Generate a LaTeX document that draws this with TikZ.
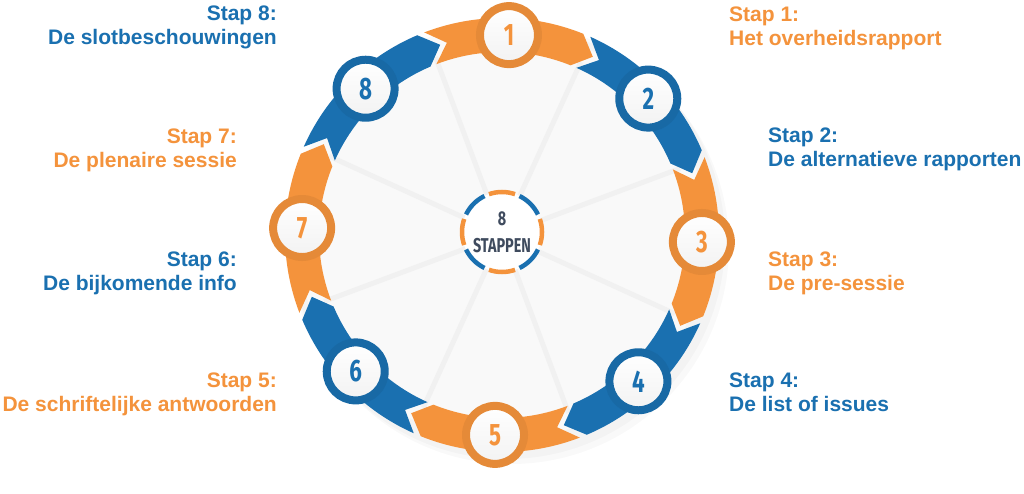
\documentclass[tikz,border=0pt]{standalone}
\usepackage{fontspec}
\setmainfont{Liberation Sans}
\newfontfamily\numfont[FakeStretch=0.72]{Fira Sans}
\usetikzlibrary{shapes,shadows}

\definecolor{staporanje}{HTML}{F4933C}
\definecolor{stapblauw}{HTML}{1A70B0}
\definecolor{stapgrijs}{HTML}{3F4B5E}

% ribbon piece round the ring: #1 = middle angle, #2 = colour
\newcommand{\lint}[2]{%
	\fill[#2] ({#1+23}:217) arc[start angle=#1+23, end angle=#1-20, radius=217]
		-- ({#1-25}:200) -- ({#1-20}:183)
		arc[start angle=#1-20, end angle=#1+23, radius=183]
		-- ({#1+18}:200) -- cycle;}

\tikzset{
	nummer/.style={circle, draw=#1!94!black, line width=8pt, top color=white, bottom color=gray!10,
		minimum size=58pt, inner sep=0pt, text=#1,
		font=\numfont\bfseries\fontsize{31}{31}\selectfont,
		drop shadow={opacity=0.12, shadow xshift=2pt, shadow yshift=-2pt}},
	stap/.style={inner sep=0pt, text=#1, font=\bfseries\fontsize{21}{24}\selectfont},
	spaak/.style={line width=5pt, gray!11},
	boog/.style={line width=4.5pt, #1}
}

\begin{document}
\begin{tikzpicture}[x=1pt,y=1pt]
	\useasboundingbox[fill=white] (0,0) rectangle (1024,493);

	\begin{scope}[shift={(502,258)}]
		% shadow and inner disc
		\fill[black, opacity=0.025] (9,-11) circle[radius=218];
		\fill[black, opacity=0.025] (5,-6) circle[radius=218];
		\fill[gray!5] (0,0) circle[radius=205];

		\draw[spaak] (0,0) -- (65.5:190);
		\draw[spaak] (0,0) -- (20.5:190);
		\draw[spaak] (0,0) -- (-24.5:190);
		\draw[spaak] (0,0) -- (-69.5:190);
		\draw[spaak] (0,0) -- (-114.5:190);
		\draw[spaak] (0,0) -- (-159.5:190);
		\draw[spaak] (0,0) -- (155.5:190);
		\draw[spaak] (0,0) -- (110.5:190);

		\lint{88}{staporanje}
		\lint{43}{stapblauw}
		\lint{-2}{staporanje}
		\lint{-47}{stapblauw}
		\lint{-92}{staporanje}
		\lint{-137}{stapblauw}
		\lint{-182}{staporanje}
		\lint{-227}{stapblauw}

		\node[nummer=staporanje] (c1) at (88:200) {1};
		\node[nummer=stapblauw] (c2) at (43:200) {2};
		\node[nummer=staporanje] (c3) at (-2:200) {3};
		\node[nummer=stapblauw] (c4) at (-47:200) {4};
		\node[nummer=staporanje] (c5) at (-92:200) {5};
		\node[nummer=stapblauw] (c6) at (-137:200) {6};
		\node[nummer=staporanje] (c7) at (-182:200) {7};
		\node[nummer=stapblauw] (c8) at (-227:200) {8};

		% centre
		\node[circle, fill=white, minimum size=80pt, align=center, text=stapgrijs,
			font=\numfont\bfseries\fontsize{20}{27}\selectfont] (mid) at (0,3) {8\\STAPPEN};
		\begin{scope}[shift={(0,3)}]
			\draw[boog=staporanje] (109:40) arc[start angle=109, end angle=71, radius=40];
			\draw[boog=stapblauw] (64:40) arc[start angle=64, end angle=26, radius=40];
			\draw[boog=staporanje] (19:40) arc[start angle=19, end angle=-19, radius=40];
			\draw[boog=stapblauw] (-26:40) arc[start angle=-26, end angle=-64, radius=40];
			\draw[boog=staporanje] (-71:40) arc[start angle=-71, end angle=-109, radius=40];
			\draw[boog=stapblauw] (-116:40) arc[start angle=-116, end angle=-154, radius=40];
			\draw[boog=staporanje] (-161:40) arc[start angle=-161, end angle=-199, radius=40];
			\draw[boog=stapblauw] (154:40) arc[start angle=154, end angle=116, radius=40];
		\end{scope}
	\end{scope}

	% labels
	\node[stap=staporanje, anchor=north west, align=left] (s1) at (729,486) {Stap 1:\\Het overheidsrapport};
	\node[stap=stapblauw, anchor=north west, align=left] (s2) at (768,365) {Stap 2:\\De alternatieve rapporten};
	\node[stap=staporanje, anchor=north west, align=left] (s3) at (768,241) {Stap 3:\\De pre-sessie};
	\node[stap=stapblauw, anchor=north west, align=left] (s4) at (729,120) {Stap 4:\\De list of issues};
	\node[stap=staporanje, anchor=north east, align=right] (s5) at (277,120) {Stap 5:\\De schriftelijke antwoorden};
	\node[stap=stapblauw, anchor=north east, align=right] (s6) at (237,241) {Stap 6:\\De bijkomende info};
	\node[stap=staporanje, anchor=north east, align=right] (s7) at (237,364) {Stap 7:\\De plenaire sessie};
	\node[stap=stapblauw, anchor=north east, align=right] (s8) at (277,487) {Stap 8:\\De slotbeschouwingen};
\end{tikzpicture}
\end{document}
